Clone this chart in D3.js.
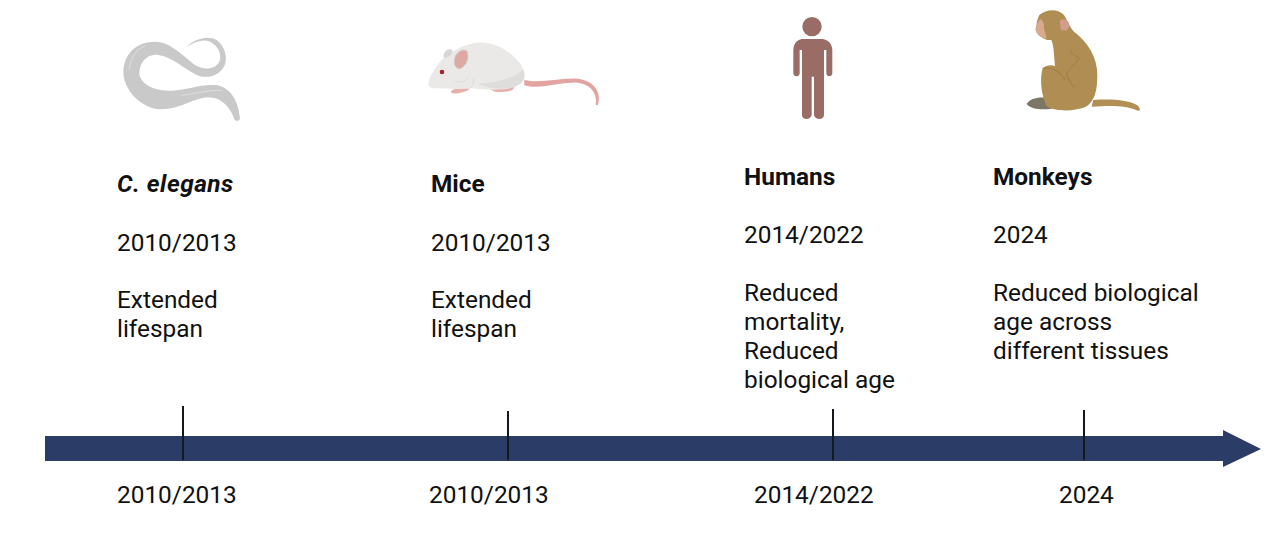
<!DOCTYPE html>
<meta charset="utf-8">
<style>
html, body { margin: 0; padding: 0; background: #fff; }
svg { display: block; font-family: Roboto, Arial, sans-serif; fill: #111; }
</style>
<body>
<svg width="1280" height="556"></svg>
<script src="https://d3js.org/d3.v7.min.js"></script>
<script>
var species = ["C. elegans", "Mice", "Humans", "Monkeys"];
var years = ["2010/2013", "2010/2013", "2014/2022", "2024"];
var outcomes = [
    ["Extended", "lifespan"],
    ["Extended", "lifespan"],
    ["Reduced", "mortality,", "Reduced", "biological age"],
    ["Reduced biological", "age across", "different tissues"]
];

var svg = d3.select("svg");

// layout of the columns, per species
var textX = d3.scaleOrdinal().domain(species).range([117, 431, 744, 993]),
    headY = d3.scaleOrdinal().domain(species).range([192, 192, 185, 185]),
    tickX = d3.scaleOrdinal().domain(species).range([183, 508, 833, 1084]),
    tickTop = d3.scaleOrdinal().domain(species).range([406, 411, 409, 410]),
    yearX = d3.scaleOrdinal().domain(species).range([117, 429, 754, 1059]);

var fontSize = "24.4px";

/********************************
 * TEXT COLUMNS
 ********************************/
var col = svg.append("g").selectAll("g")
    .data(species)
  .enter().append("g")
    .attr("transform", function(d) { return "translate(" + textX(d) + "," + headY(d) + ")"; })
    .style("font-size", fontSize);

col.append("text")
    .style("font-weight", 700)
    .style("font-style", function(d, i) { return i == 0 ? "italic" : "normal"; })
    .style("letter-spacing", function(d, i) { return i == 0 ? "0.5px" : null; })
    .text(function(d) { return d; });

col.append("text")
    .attr("y", function(d, i) { return i < 2 ? 59 : 58; })
    .text(function(d, i) { return years[i]; });

col.each(function(d, i) {
    d3.select(this).selectAll("text.outcome")
        .data(outcomes[i])
      .enter().append("text")
        .attr("class", "outcome")
        .attr("y", function(l, j) { return 116 + j * 29; })
        .text(function(l) { return l; });
});

/********************************
 * TIMELINE ARROW
 ********************************/
var arrow = d3.path();
arrow.moveTo(45, 436);
arrow.lineTo(1223, 436);
arrow.lineTo(1223, 430);
arrow.lineTo(1261, 449);
arrow.lineTo(1223, 467);
arrow.lineTo(1223, 461);
arrow.lineTo(45, 461);
arrow.closePath();
svg.append("path").attr("d", arrow.toString()).attr("fill", "#2b3c67");

svg.append("g").selectAll("line")
    .data(species)
  .enter().append("line")
    .attr("x1", tickX).attr("x2", tickX)
    .attr("y1", tickTop).attr("y2", 460)
    .attr("stroke", "#14181f")
    .attr("stroke-width", 2);

svg.append("g").selectAll("text")
    .data(species)
  .enter().append("text")
    .attr("x", yearX)
    .attr("y", 503)
    .style("font-size", fontSize)
    .text(function(d, i) { return years[i]; });

/********************************
 * ILLUSTRATIONS (drawn at 3x, scaled down)
 ********************************/
svg.append("filter").attr("id", "soft")
  .append("feGaussianBlur").attr("stdDeviation", 1.5);

var worm = svg.append("g").attr("transform", "translate(100,20) scale(0.3333)").attr("filter", "url(#soft)");
worm.append("path")
    .attr("fill", "#c9c9c9")
    .attr("d", "M258,82 C285,55 325,45 350,60 C375,78 385,115 372,140 C355,168 320,178 290,165 C250,145 215,110 175,105 C140,100 118,130 118,160 C120,190 160,215 215,212 C260,210 300,192 345,195 C385,198 415,235 420,295 C418,306 405,306 402,295 C392,265 365,232 325,232 C285,232 240,268 185,268 C125,268 70,210 70,155 C72,100 110,65 165,65 C215,65 255,115 290,138 C315,150 345,148 358,125 C368,100 350,68 320,62 C300,60 280,68 258,82 Z");
worm.append("path")
    .attr("fill", "none").attr("stroke", "#dedede").attr("stroke-width", 3).attr("stroke-linecap", "round")
    .attr("d", "M88,150 C90,115 105,90 135,78 M245,226 C285,222 325,208 365,212");

var mouse = svg.append("g").attr("transform", "translate(415,20) scale(0.3333)").attr("filter", "url(#soft)");
mouse.append("path")
    .attr("fill", "#e3a3a0")
    .attr("d", "M328,180 C380,192 430,172 490,176 C535,182 562,215 548,256 L542,254 C548,218 525,192 488,188 C430,186 380,210 328,196 Z");
mouse.append("path")
    .attr("fill", "#e8b0aa")
    .attr("d", "M225,205 C245,198 285,195 298,200 C300,210 280,218 250,216 C238,216 228,212 225,205 Z M108,212 C120,205 145,202 165,206 C155,216 125,222 110,220 Z");
mouse.append("path")
    .attr("fill", "#ebe9e8")
    .attr("d", "M40,195 C38,180 62,135 88,112 C120,90 145,72 190,68 C240,65 290,95 315,130 C335,160 335,185 300,200 C270,212 215,210 170,205 C140,210 100,205 60,205 C50,205 42,202 40,195 Z");
mouse.append("path")
    .attr("fill", "#dfdddb")
    .attr("d", "M190,190 C230,190 290,180 325,150 C335,175 325,190 300,200 C265,210 215,208 190,190 Z");
mouse.append("path")
    .attr("fill", "none").attr("stroke", "#d6d4d2").attr("stroke-width", 2)
    .attr("d", "M120,182 C135,190 150,185 160,172 M165,205 C175,195 178,185 175,175");
mouse.append("path")
    .attr("fill", "#d9d7d6")
    .attr("d", "M85,108 C88,90 105,82 113,92 C112,105 100,112 88,114 Z");
mouse.append("path")
    .attr("fill", "#dfa9a3").attr("stroke", "#cfc8c4").attr("stroke-width", 3)
    .attr("d", "M118,125 C118,100 140,85 155,92 C163,110 158,135 135,146 C125,146 118,138 118,125 Z");
mouse.append("circle").attr("cx", 81).attr("cy", 156).attr("r", 7).attr("fill", "#a3202f");

var human = svg.append("g").attr("transform", "translate(770,5) scale(0.3333)").attr("fill", "#9a6c66").attr("filter", "url(#soft)");
human.append("circle").attr("cx", 126).attr("cy", 65).attr("r", 29);
human.append("path")
    .attr("d", "M96,102 L158,102 C175,104 187,118 187,135 L187,205 C187,217 169,217 169,205 L169,135 L162,135 L162,330 C162,346 135,346 132,330 L132,215 L125,215 L125,330 C122,346 96,346 96,330 L96,135 L89,135 L89,205 C89,217 70,217 70,205 L70,135 C70,118 80,104 96,102 Z");

var monkey = svg.append("g").attr("transform", "translate(1010,0) scale(0.3333)").attr("filter", "url(#soft)");
monkey.append("path")
    .attr("fill", "#7d7466")
    .attr("d", "M50,312 C60,296 85,290 110,294 L125,326 C100,330 65,330 50,312 Z");
monkey.append("path")
    .attr("fill", "#b18f55")
    .attr("d", "M250,300 C300,296 360,300 382,316 C395,328 390,336 378,330 C350,316 300,316 245,320 Z");
monkey.append("path")
    .attr("fill", "#b08d52")
    .attr("d", "M88,45 C110,26 145,26 162,45 C172,60 178,80 192,95 C232,125 262,170 262,225 C262,270 255,305 225,322 C190,335 130,335 110,318 C95,290 88,240 98,205 C108,196 122,194 135,198 C132,165 132,140 124,120 C105,122 85,108 78,92 C78,72 82,58 88,45 Z");
monkey.append("path")
    .attr("fill", "#d8a98e")
    .attr("d", "M90,58 C100,62 104,72 102,85 C104,97 112,108 108,116 C92,114 78,102 76,88 C78,78 84,66 90,58 Z");
monkey.append("path")
    .attr("fill", "#d39d8b")
    .attr("d", "M150,62 C165,52 178,62 178,78 C176,92 160,96 152,88 Z");
monkey.append("path")
    .attr("fill", "none").attr("stroke", "#9a7a42").attr("stroke-width", 2.5)
    .attr("d", "M182,150 C185,165 200,170 208,175 C195,195 178,205 170,222 C175,240 185,255 195,262 M98,205 C130,200 150,215 165,240");
</script>
</body>
